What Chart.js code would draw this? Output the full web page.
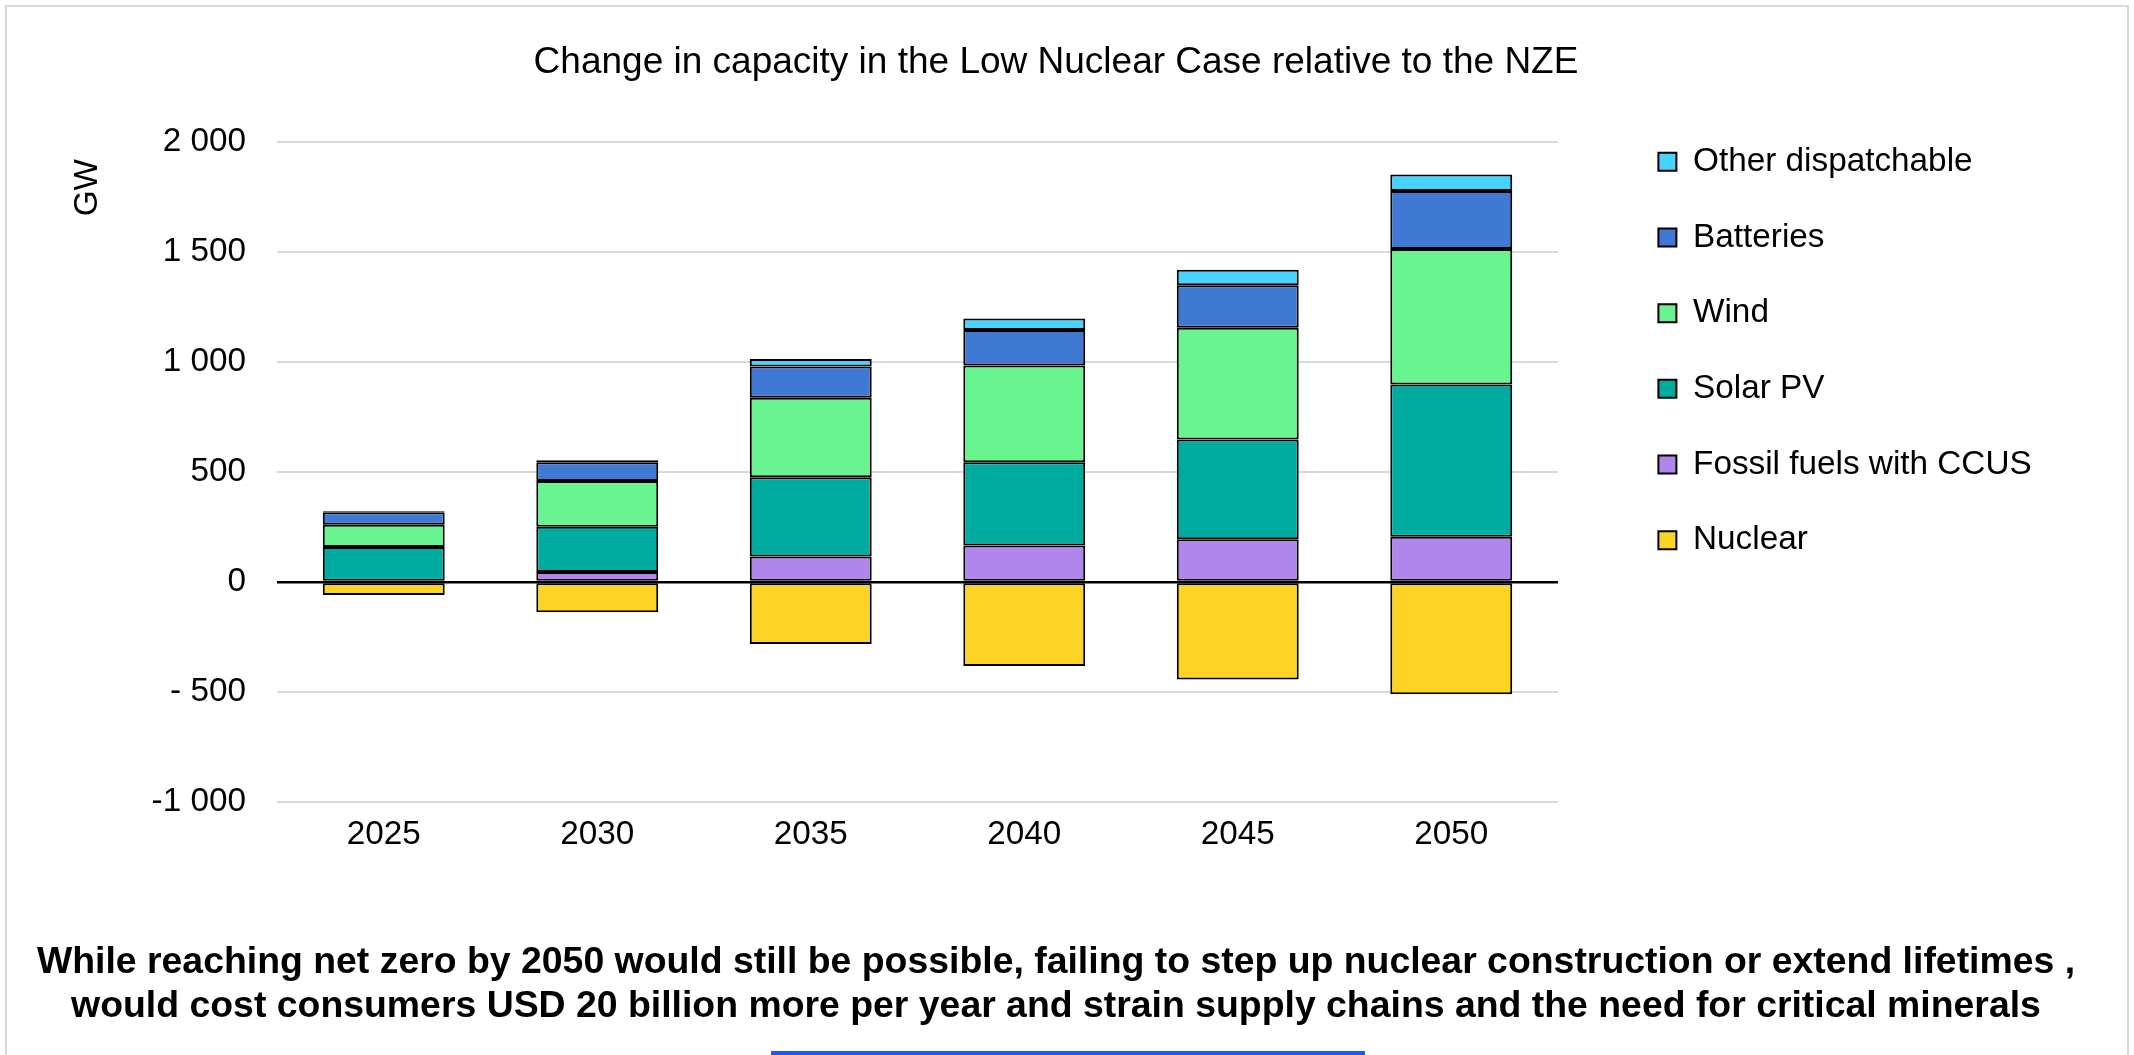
<!DOCTYPE html>
<html>
<head>
<meta charset="utf-8">
<title>Change in capacity in the Low Nuclear Case relative to the NZE</title>
<script src="https://cdn.jsdelivr.net/npm/chart.js@4/dist/chart.umd.min.js"></script>
<style>
  html, body { margin: 0; padding: 0; background: #ffffff; overflow: hidden; }
  #frame {
    position: absolute; left: 5px; top: 5px; width: 2120px; height: 1100px;
    border: 2px solid #d9d9d9; border-bottom: none; box-sizing: content-box;
  }
  #chart { position: absolute; left: 0; top: 0; }
  #footnote {
    position: absolute; left: 0; top: 937.5px; width: 2112px;
    text-align: center; white-space: nowrap;
    font-family: 'Liberation Sans', Arial, Helvetica, sans-serif;
    font-weight: bold; font-size: 37.4px; line-height: 44.4px; color: #000000;
  }
  #linkbar {
    position: absolute; left: 771px; top: 1051px; width: 594px; height: 6px;
    background: #1f5af0;
  }
</style>
</head>
<body>
<div id="frame"></div>
<canvas id="chart" width="2134" height="1055"></canvas>
<div id="footnote"></div>
<div id="linkbar"></div>
<script>
// Years on the category axis
const years = ['2025', '2030', '2035', '2040', '2045', '2050'];

// Change in capacity vs. the NZE, GW
const nuclear           = [-60, -138, -282, -382, -444, -510];
const fossilWithCcus    = [0, 45, 115, 165, 194, 205];
const solarPv           = [158, 206, 361, 379, 453, 692];
const wind              = [102, 207, 361, 439, 508, 616];
const batteries         = [56, 86, 142, 161, 193, 263];
const otherDispatchable = [5, 9, 34, 53, 70, 75];

// Value axis ticks and how they are printed
const yTickValues = [-1000, -500, 0, 500, 1000, 1500, 2000];
const yTickLabels = ['-1 000', '- 500', '0', '500', '1 000', '1 500', '2 000'];

const chartTitle = 'Change in capacity in the Low Nuclear Case relative to the NZE';
const axisUnit = 'GW';
const footnoteLines = [
  'While reaching net zero by 2050 would still be possible, failing to step up nuclear construction or extend lifetimes ,',
  'would cost consumers USD 20 billion more per year and strain supply chains and the need for critical minerals'
];

const FONT = "'Liberation Sans', Arial, Helvetica, sans-serif";
const LABEL_SIZE = 33.3;

// Footnote below the chart
const foot = document.getElementById('footnote');
footnoteLines.forEach((line) => {
  const d = document.createElement('div');
  d.textContent = line;
  foot.appendChild(d);
});

function series(label, data, color) {
  return {
    label, data,
    backgroundColor: color,
    borderColor: '#000000',
    borderWidth: 2,
    borderSkipped: false,
    categoryPercentage: 1.0,
    barPercentage: 0.571
  };
}

const datasets = [
  series('Nuclear', nuclear, '#fdd426'),
  series('Fossil fuels with CCUS', fossilWithCcus, '#b085ec'),
  series('Solar PV', solarPv, '#00ac9f'),
  series('Wind', wind, '#68f590'),
  series('Batteries', batteries, '#4079d3'),
  series('Other dispatchable', otherDispatchable, '#48d3ff')
];

// Layout geometry: plot area spans x 277..1558, legend starts at x 1616
const PLOT_LEFT = 277;
const LEGEND_LEFT = 1616;
const PLOT_RIGHT = 1558;
const LEGEND_PAD = 42.4;
const LEGEND_BOX = 18;

// Legend width fitted to its longest label
const measure = document.createElement('canvas').getContext('2d');
measure.font = LABEL_SIZE + 'px ' + FONT;
const longest = Math.max(...datasets.map((d) => measure.measureText(d.label).width));
const legendWidth = Math.ceil(LEGEND_PAD + LEGEND_BOX + LABEL_SIZE / 2 + longest + 1);
const padRight = 2134 - LEGEND_LEFT - legendWidth;
const padLeft = padRight - 22;

// Rotated unit label drawn beside the top of the value axis
const unitLabel = {
  id: 'unitLabel',
  afterDraw(chart) {
    const { ctx, chartArea } = chart;
    ctx.save();
    ctx.translate(chartArea.left - 189, chartArea.top + 46);
    ctx.rotate(-Math.PI / 2);
    ctx.font = LABEL_SIZE + 'px ' + FONT;
    ctx.fillStyle = '#000000';
    ctx.textAlign = 'center';
    ctx.textBaseline = 'middle';
    ctx.fillText(axisUnit, 0, 0);
    ctx.restore();
  }
};

new Chart(document.getElementById('chart'), {
  type: 'bar',
  data: { labels: years, datasets },
  plugins: [unitLabel],
  options: {
    responsive: false,
    devicePixelRatio: 1,
    animation: false,
    layout: { padding: { left: padLeft, right: padRight, top: 0, bottom: 114.2 } },
    plugins: {
      title: {
        display: true,
        text: chartTitle,
        color: '#000000',
        font: { family: FONT, size: 37, weight: 'normal', lineHeight: 1.2 },
        padding: { top: 40.6, bottom: 56.7 }
      },
      legend: {
        display: true,
        position: 'right',
        align: 'start',
        reverse: true,
        maxWidth: legendWidth,
        title: { display: true, text: '', font: { size: 10, lineHeight: 1.2 }, padding: { top: 90.7, bottom: 0 } },
        labels: {
          color: '#000000',
          font: { family: FONT, size: LABEL_SIZE },
          boxWidth: LEGEND_BOX,
          boxHeight: LEGEND_BOX,
          padding: LEGEND_PAD
        }
      },
      tooltip: { enabled: false }
    },
    scales: {
      x: {
        stacked: true,
        grid: { display: false, drawTicks: false },
        border: { display: false },
        ticks: { color: '#000000', font: { family: FONT, size: LABEL_SIZE }, padding: 12.7 },
        afterFit(scale) { scale.height = 138.8; }
      },
      y: {
        stacked: true,
        min: -1000,
        max: 2000,
        border: { display: false },
        grid: {
          drawTicks: false,
          color: (c) => (c.tick && c.tick.value === 0 ? '#000000' : '#d9d9d9'),
          lineWidth: (c) => (c.tick && c.tick.value === 0 ? 2.5 : 2)
        },
        ticks: {
          stepSize: 500,
          padding: 31,
          color: '#000000',
          font: { family: FONT, size: LABEL_SIZE },
          callback: (v) => {
            const i = yTickValues.indexOf(v);
            return i >= 0 ? yTickLabels[i] : '';
          }
        },
        afterFit(scale) { scale.width = PLOT_LEFT - padLeft; }
      },
      gap: {
        type: 'linear',
        position: 'right',
        display: true,
        grid: { display: false, drawTicks: false },
        border: { display: false },
        ticks: { display: false },
        afterFit(scale) { scale.width = LEGEND_LEFT - PLOT_RIGHT; }
      }
    }
  }
});
</script>
</body>
</html>
